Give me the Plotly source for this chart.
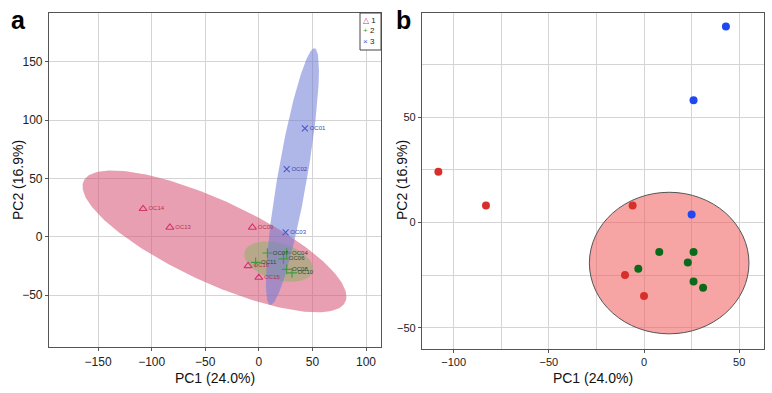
import numpy as np
import plotly.graph_objects as go

# ---------------- data ----------------
samples = ["OC14", "OC13", "OC09", "OC16", "OC15",
           "OC07", "OC04", "OC06", "OC11", "OC08", "OC10",
           "OC01", "OC02", "OC03"]
groups = ["1", "1", "1", "1", "1",
          "2", "2", "2", "2", "2", "2",
          "3", "3", "3"]
pc1 = [-108, -83, -6, -10, 0,
       8, 26, 23, -3, 26, 31,
       43, 26, 25]
pc2 = [24, 8, 8, -25, -35,
       -14, -14, -19, -22, -28, -31,
       93, 58, 3.7]

group_names = ["1", "2", "3"]
x_label = "PC1 (24.0%)"
y_label = "PC2 (16.9%)"
ticks_a_x = [-150, -100, -50, 0, 50, 100]
ticks_a_y = [-50, 0, 50, 100, 150]
ticks_b_x = [-100, -50, 0, 50]
ticks_b_y = [-50, 0, 50]

# highlighted region in panel b (centre and radii in PC units)
b_circle_center = [13.2, -19.3]
b_circle_radii = [41.9, 33.6]

# ---------------- styles ----------------
mk_color = {"1": "#d6336c", "2": "#3f9a3f", "3": "#4a58c8"}
txt_color = {"1": "#b8324e", "2": "#2f4a2f", "3": "#3a48b0"}
mk_symbol = {"1": "triangle-up-open", "2": "cross-thin-open", "3": "x-thin-open"}
mk_size = {"1": 7, "2": 7, "3": 6}
ell_fill = {"1": "rgba(215,80,115,0.55)", "2": "rgba(142,175,105,0.55)",
            "3": "rgba(110,122,213,0.55)"}
dot_color = {"1": "#d7302b", "2": "#0b6a1a", "3": "#2147f0"}

W, H = 772, 393
FONT = "Liberation Sans, Arial, sans-serif"

fig = go.Figure()

chi_scale = np.sqrt(-2 * np.log(0.05))  # 95% normal data ellipse
t = np.linspace(0, 2 * np.pi, 200)

for g in group_names:
    idx = [i for i, gg in enumerate(groups) if gg == g]
    xs = np.array([pc1[i] for i in idx], float)
    ys = np.array([pc2[i] for i in idx], float)
    cov = np.cov(np.vstack([xs, ys]))
    L = np.linalg.cholesky(cov)
    circ = np.vstack([np.cos(t), np.sin(t)])
    pts = L @ circ * chi_scale
    fig.add_trace(go.Scatter(
        x=xs.mean() + pts[0], y=ys.mean() + pts[1], mode="lines",
        fill="toself", fillcolor=ell_fill[g], line=dict(width=0),
        hoverinfo="skip", showlegend=False, xaxis="x", yaxis="y"))

for g in group_names:
    idx = [i for i, gg in enumerate(groups) if gg == g]
    fig.add_trace(go.Scatter(
        x=[pc1[i] for i in idx], y=[pc2[i] for i in idx],
        text=[samples[i] for i in idx], mode="markers+text",
        textposition="middle right",
        textfont=dict(size=6, color=txt_color[g], family=FONT),
        marker=dict(symbol=mk_symbol[g], size=mk_size[g], color=mk_color[g],
                    line=dict(width=1.1, color=mk_color[g])),
        name=g, showlegend=False, xaxis="x", yaxis="y"))

for g in group_names:
    idx = [i for i, gg in enumerate(groups) if gg == g]
    fig.add_trace(go.Scatter(
        x=[pc1[i] for i in idx], y=[pc2[i] for i in idx], mode="markers",
        marker=dict(size=8, color=dot_color[g]),
        name=g, showlegend=False, xaxis="x2", yaxis="y2"))

# panel b shaded region
fig.add_shape(type="circle", xref="x2", yref="y2",
              x0=b_circle_center[0] - b_circle_radii[0],
              x1=b_circle_center[0] + b_circle_radii[0],
              y0=b_circle_center[1] - b_circle_radii[1],
              y1=b_circle_center[1] + b_circle_radii[1],
              fillcolor="rgba(238,90,90,0.55)", line=dict(color="#555", width=1),
              layer="between")

# manual legend for panel a
lx0, lx1, ly0, ly1 = 360, 381, 13, 50
fig.add_shape(type="rect", xref="paper", yref="paper",
              x0=lx0 / W, x1=lx1 / W, y0=1 - ly1 / H, y1=1 - ly0 / H,
              line=dict(color="#444", width=1), fillcolor="white", layer="above")
leg_sym = {"1": "\u25b3", "2": "+", "3": "\u00d7"}
leg_text = "<br>".join(
    f"<span style='color:{mk_color[g]}'>{leg_sym[g]}</span> {g}" for g in group_names)
fig.add_annotation(xref="paper", yref="paper", x=(lx0 + 2) / W,
                   y=1 - ((ly0 + ly1) / 2) / H, showarrow=False,
                   xanchor="left", yanchor="middle", align="left",
                   borderpad=0, text=leg_text,
                   font=dict(size=8, color="#222", family=FONT))

# panel letters
for letter, px in (("a", 18), ("b", 403)):
    fig.add_annotation(xref="paper", yref="paper", x=px / W, y=1 - 20 / H,
                       text=f"<b>{letter}</b>", showarrow=False,
                       xanchor="center", yanchor="middle",
                       font=dict(size=25, color="black", family=FONT))

# y-axis titles
for px in (18, 402):
    fig.add_annotation(xref="paper", yref="paper", x=px / W, y=1 - 180 / H,
                       text=y_label, textangle=-90, showarrow=False,
                       xanchor="center", yanchor="middle",
                       font=dict(size=14, color="#111", family=FONT))

axis_common = dict(showline=True, mirror=True, linecolor="#555", linewidth=1.2,
                   showgrid=True, gridcolor="#d4d4d4", gridwidth=1, zeroline=False,
                   ticks="outside", ticklen=3, tickcolor="#555")

fig.update_layout(
    width=W, height=H, margin=dict(l=0, r=0, t=0, b=0),
    paper_bgcolor="white", plot_bgcolor="white",
    font=dict(family=FONT, color="#222"),
    xaxis=dict(domain=[49 / W, 381 / W], range=[-195.8, 114], tickvals=ticks_a_x,
               tickfont=dict(size=12), title=dict(text=x_label, font=dict(size=14, color="#111"), standoff=5),
               anchor="y", **axis_common),
    yaxis=dict(domain=[1 - 347 / H, 1 - 13 / H], range=[-94.6, 192], tickvals=ticks_a_y,
               tickfont=dict(size=12), anchor="x", **axis_common),
    xaxis2=dict(domain=[422 / W, 764 / W], range=[-116.6, 63], tickvals=ticks_b_x,
                tickfont=dict(size=11), title=dict(text=x_label, font=dict(size=14, color="#111"), standoff=5),
                minor=dict(dtick=25, tick0=0, showgrid=True, gridcolor="#d4d4d4", ticks=""),
                anchor="y2", **axis_common),
    yaxis2=dict(domain=[1 - 349 / H, 1 - 13 / H], range=[-60.1, 99.4], tickvals=ticks_b_y,
                tickfont=dict(size=11),
                minor=dict(dtick=25, tick0=0, showgrid=True, gridcolor="#d4d4d4", ticks=""),
                anchor="x2", **axis_common),
)

fig.write_html("out.html", config={"displayModeBar": False},
               post_script="document.body.style.margin='0px';")
